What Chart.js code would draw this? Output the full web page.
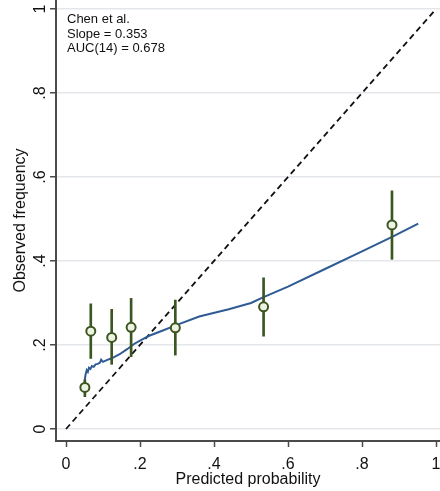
<!DOCTYPE html>
<html>
<head>
<meta charset="utf-8">
<script src="https://cdn.jsdelivr.net/npm/chart.js@4.4.1/dist/chart.umd.min.js"></script>
<style>
html, body { margin: 0; padding: 0; background: #fff; }
#wrap { width: 440px; height: 491px; position: relative; }
</style>
</head>
<body>
<div id="wrap"><canvas id="calib_canvas"></canvas></div>
<script>
// grouped observed frequency with 95% CI, by predicted probability
const group_pred = [0.051, 0.067, 0.1235, 0.176, 0.2955, 0.534, 0.881];
const group_obs  = [0.099, 0.233, 0.218, 0.242, 0.241, 0.291, 0.486];
const group_lo   = [0.077, 0.168, 0.154, 0.172, 0.176, 0.221, 0.404];
const group_hi   = [0.117, 0.298, 0.285, 0.311, 0.307, 0.360, 0.567];

// smoothed (lowess) calibration curve
const smooth_x = [0.049, 0.051, 0.053, 0.056, 0.059, 0.062, 0.066, 0.070, 0.075, 0.080, 0.086,
                  0.092, 0.095, 0.100, 0.110, 0.125, 0.145, 0.165, 0.185, 0.205, 0.225, 0.26,
                  0.30, 0.36, 0.44, 0.50, 0.534, 0.60, 0.70, 0.80, 0.88, 0.952];
const smooth_y = [0.105, 0.118, 0.130, 0.140, 0.136, 0.146, 0.143, 0.150, 0.148, 0.154, 0.155,
                  0.158, 0.165, 0.160, 0.164, 0.169, 0.178, 0.190, 0.203, 0.213, 0.222, 0.234,
                  0.248, 0.268, 0.285, 0.300, 0.314, 0.339, 0.381, 0.423, 0.457, 0.489];

// reference line (perfect calibration)
const diag_x = [0, 1];
const diag_y = [0, 1];

const tick_values = [0, 0.2, 0.4, 0.6, 0.8, 1];
const tick_labels = ['0', '.2', '.4', '.6', '.8', '1'];

const note_lines = ['Chen et al.', 'Slope = 0.353', 'AUC(14) = 0.678'];

const FONT_FAMILY = '"Liberation Sans", Arial, sans-serif';
const GREEN = '#3b5620';
const BLUE = '#2f5b95';
const AXIS_COLOR = '#4a4a4a';

// text block in the top-left corner of the plot
const note_plugin = {
    id: 'note_text',
    afterDatasetsDraw(chart) {
        const ctx = chart.ctx;
        const x0 = chart.scales.x.getPixelForValue(0);
        const y0 = chart.scales.y.getPixelForValue(1);
        ctx.save();
        ctx.font = '13px ' + FONT_FAMILY;
        ctx.fillStyle = '#111';
        ctx.textAlign = 'left';
        ctx.textBaseline = 'alphabetic';
        for (let i = 0; i < note_lines.length; i++) {
            ctx.fillText(note_lines[i], x0 + 1, y0 + 14.3 + i * 14.2);
        }
        ctx.restore();
    }
};

function tick_label(value) {
    let i = tick_values.indexOf(value);
    return i >= 0 ? tick_labels[i] : '';
}

let points_data = group_pred.map((x, i) => ({x: x, y: group_obs[i]}));
let ci_data = group_pred.map((x, i) => ({x: x, y: [group_lo[i], group_hi[i]]}));
let smooth_data = smooth_x.map((x, i) => ({x: x, y: smooth_y[i]}));
let diag_data = diag_x.map((x, i) => ({x: x, y: diag_y[i]}));

let THE_CHART = new Chart(document.getElementById('calib_canvas'), {
    type: 'scatter',
    data: {
        datasets: [
            {
                type: 'scatter',
                data: points_data,
                pointRadius: 4.5,
                pointBorderWidth: 2,
                borderColor: GREEN,
                backgroundColor: '#eef2e2',
                order: 0
            },
            {
                type: 'bar',
                data: ci_data,
                backgroundColor: GREEN,
                borderWidth: 0,
                barThickness: 2,
                order: 1
            },
            {
                type: 'line',
                data: smooth_data,
                borderColor: BLUE,
                borderWidth: 2,
                pointRadius: 0,
                tension: 0,
                fill: false,
                order: 2
            },
            {
                type: 'line',
                data: diag_data,
                borderColor: '#111',
                borderWidth: 1.8,
                borderDash: [6, 4],
                pointRadius: 0,
                fill: false,
                order: 3
            }
        ]
    },
    options: {
        responsive: true,
        maintainAspectRatio: false,
        animation: false,
        layout: {padding: 0, autoPadding: false},
        plugins: {
            legend: {display: false},
            tooltip: {enabled: false}
        },
        scales: {
            x: {
                type: 'linear',
                offset: false,
                min: -0.02703,
                max: 1.01081,
                afterBuildTicks: s => { s.ticks = tick_values.map(v => ({value: v})); },
                afterFit: s => {
                    s.height = 50;
                    s.paddingLeft = 0;
                    s.paddingRight = 0;
                },
                ticks: {
                    callback: v => tick_label(v),
                    font: {family: FONT_FAMILY, size: 16},
                    color: '#111',
                    padding: 8,
                    maxRotation: 0,
                    autoSkip: false
                },
                grid: {
                    offset: false,
                    drawOnChartArea: false,
                    drawTicks: true,
                    tickLength: 6,
                    tickColor: AXIS_COLOR,
                    tickWidth: 1.5
                },
                border: {display: true, color: AXIS_COLOR, width: 2},
                title: {
                    display: true,
                    text: 'Predicted probability',
                    font: {family: FONT_FAMILY, size: 16},
                    color: '#111',
                    padding: {top: 0, bottom: 2}
                }
            },
            y: {
                type: 'linear',
                min: -0.02857,
                max: 1.02143,
                afterBuildTicks: s => { s.ticks = tick_values.map(v => ({value: v})); },
                afterFit: s => {
                    s.width = 56;
                    s.paddingTop = 0;
                    s.paddingBottom = 0;
                },
                ticks: {
                    callback: v => tick_label(v),
                    font: {family: FONT_FAMILY, size: 16},
                    color: '#111',
                    padding: 3,
                    minRotation: 90,
                    maxRotation: 90,
                    crossAlign: 'center',
                    autoSkip: false
                },
                grid: {
                    color: '#e3e7eb',
                    lineWidth: 1.5,
                    drawTicks: true,
                    tickLength: 6,
                    tickColor: AXIS_COLOR,
                    tickWidth: 1.5
                },
                border: {display: true, color: AXIS_COLOR, width: 2},
                title: {
                    display: true,
                    text: 'Observed frequency',
                    font: {family: FONT_FAMILY, size: 16},
                    color: '#111',
                    padding: {top: 11, bottom: 0}
                }
            }
        }
    },
    plugins: [note_plugin]
});
</script>
</body>
</html>
